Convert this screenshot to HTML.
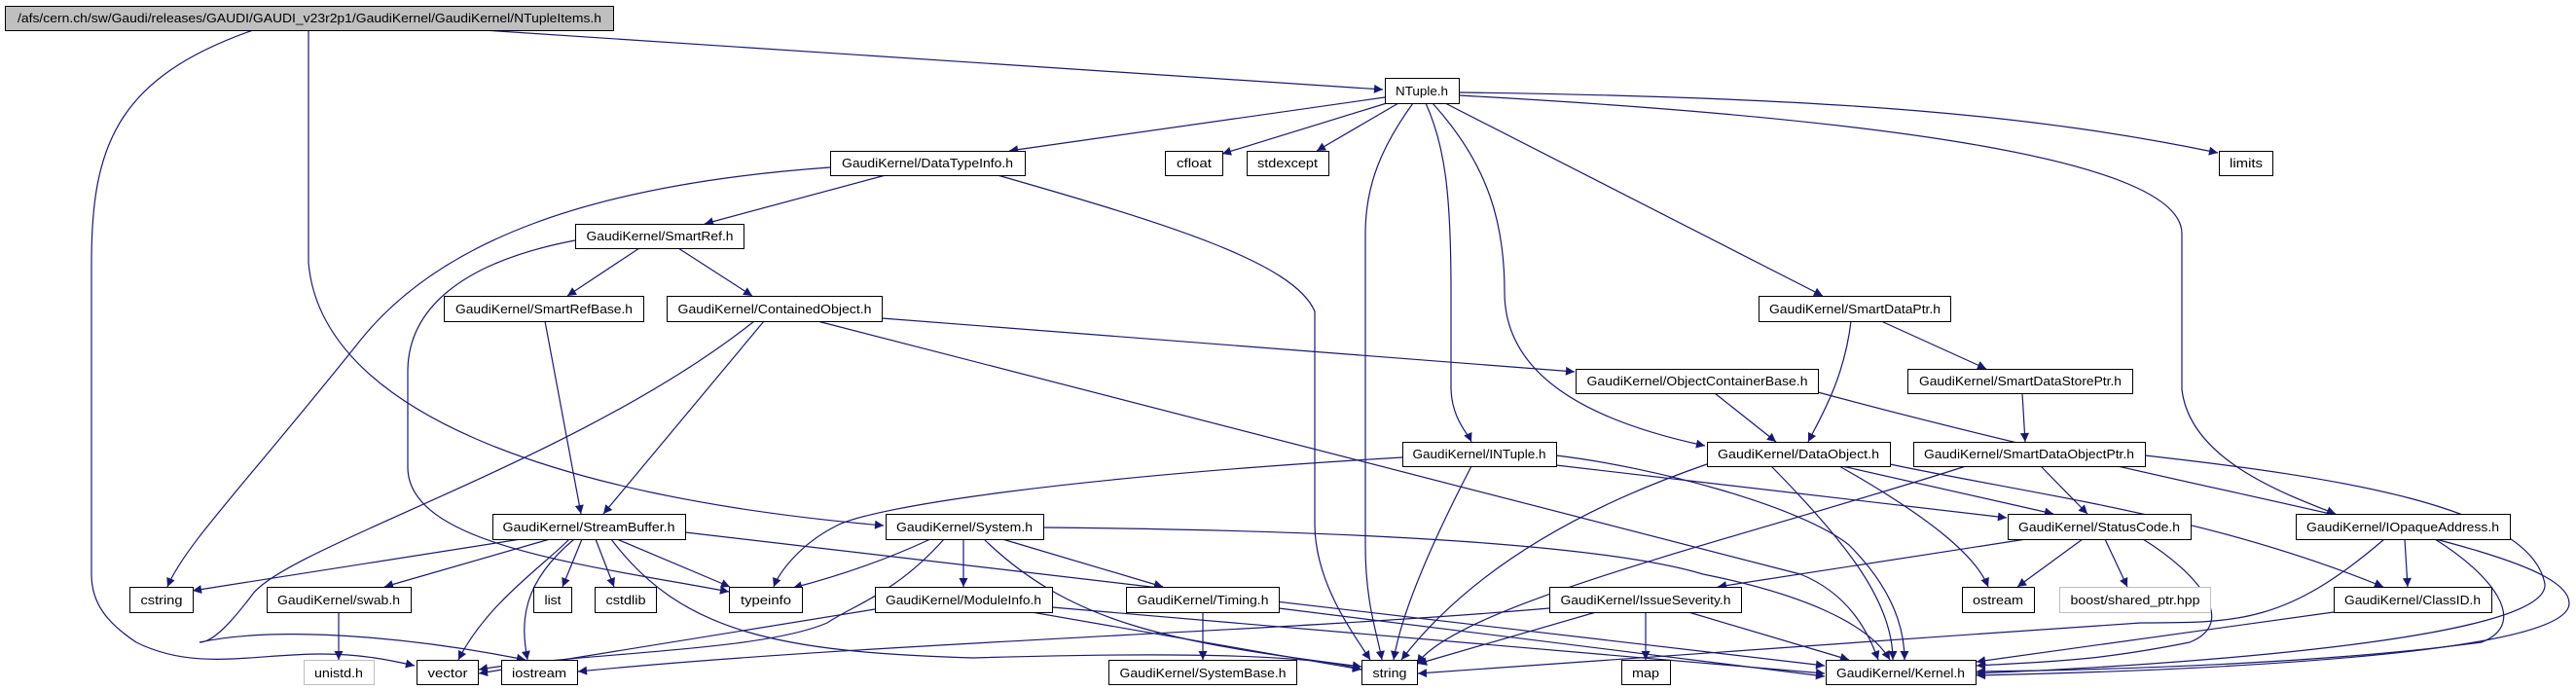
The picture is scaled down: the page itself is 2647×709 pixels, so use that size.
<!DOCTYPE html>
<html><head><meta charset="utf-8"><style>
html,body{margin:0;padding:0;background:#fff;}
svg{display:block;}
text{font-family:"Liberation Sans",sans-serif;font-size:13px;fill:#000;}
</style></head><body>
<svg width="2647" height="709" viewBox="0 0 2647 709" xmlns="http://www.w3.org/2000/svg">
<defs>
<marker id="a" viewBox="0 0 10 10" refX="10" refY="5" markerWidth="11" markerHeight="9" markerUnits="userSpaceOnUse" orient="auto">
<path d="M0,0 L10,5 L0,10 z" fill="#191970"/></marker>
</defs>
<g fill="none" stroke="#191970" stroke-width="1.2" marker-end="url(#a)">
<path d="M497,31 L1421,92"/>
<path d="M260,31 C120,80 94,150 94,270 L94,590 C94,620 110,640 140,660 C200,690 260,672 330,672 C370,672 400,678 426,684"/>
<path d="M317,31 L317,270 C330,420 560,510 908,540"/>
<path d="M1423,100 L1037,155"/>
<path d="M1425,106 L1256,158"/>
<path d="M1437,106 L1353,155"/>
<path d="M1499,95 C1900,100 2100,120 2279,157"/>
<path d="M1499,98 C1900,120 2242,160 2242,240 L2242,400 C2250,470 2340,505 2400,528"/>
<path d="M1485,106 L1873,304"/>
<path d="M1452,106 C1420,150 1403,190 1403,240 L1403,560 C1403,620 1415,650 1420,678"/>
<path d="M1465,106 C1485,150 1491,200 1491,300 L1491,400 C1492,430 1508,445 1512,454"/>
<path d="M1472,106 C1530,170 1546,230 1546,300 C1546,380 1620,430 1752,458"/>
<path d="M1025,180 C1200,230 1330,270 1351,320 L1351,540 C1352,600 1390,650 1408,678"/>
<path d="M910,180 L724,230"/>
<path d="M853,172 C600,190 450,250 370,350 C250,500 190,560 172,603"/>
<path d="M657,255 L583,304"/>
<path d="M697,255 L773,304"/>
<path d="M591,247 C470,270 420,320 419,380 L419,480 C419,560 600,580 749,608"/>
<path d="M560,330 L597,528"/>
<path d="M785,330 L620,528"/>
<path d="M906,327 L1618,382"/>
<path d="M840,330 L1850,590 C1900,610 1920,650 1930,678"/>
<path d="M775,330 C600,470 300,560 260,610 C230,650 215,660 205,660 C300,640 450,660 540,678"/>
<path d="M535,554 L198,607"/>
<path d="M565,554 L395,603"/>
<path d="M598,554 L578,603"/>
<path d="M612,554 L631,603"/>
<path d="M634,554 L750,603"/>
<path d="M585,554 C560,580 500,620 471,678"/>
<path d="M590,554 C535,600 535,640 542,678"/>
<path d="M628,554 C700,650 800,670 1000,676 C1200,670 1350,672 1399,688"/>
<path d="M704,547 L1875,684"/>
<path d="M348,629 L348,678"/>
<path d="M956,554 C900,580 850,595 815,604"/>
<path d="M970,554 C920,610 880,620 850,640 C780,670 600,670 492,688"/>
<path d="M990,554 L990,603"/>
<path d="M1011,554 C1100,640 1200,660 1399,685"/>
<path d="M1030,554 L1195,603"/>
<path d="M1072,542 C1400,545 1650,560 1750,590 C1850,610 1920,640 1942,678"/>
<path d="M899,626 L492,692"/>
<path d="M1060,629 L1399,688"/>
<path d="M1081,624 L1875,692"/>
<path d="M1236,629 L1236,678"/>
<path d="M1314,625 L1875,695"/>
<path d="M1441,470 C1100,490 900,520 860,540 C820,560 800,590 795,603"/>
<path d="M1512,479 C1470,560 1440,630 1432,678"/>
<path d="M1599,478 L2062,532"/>
<path d="M1599,468 C1700,480 1850,520 1900,560 C1940,600 1957,640 1957,678"/>
<path d="M1754,477 C1600,530 1500,600 1440,678"/>
<path d="M1893,479 L2110,528"/>
<path d="M1890,479 C1980,530 2030,570 2043,603"/>
<path d="M1942,477 C2100,510 2270,530 2449,603"/>
<path d="M1820,479 C1900,560 1945,620 1945,678"/>
<path d="M1902,330 C1895,390 1870,430 1858,454"/>
<path d="M1933,330 L2041,379"/>
<path d="M2078,404 L2081,454"/>
<path d="M2097,479 L2145,528"/>
<path d="M2020,479 C1800,550 1500,620 1456,682"/>
<path d="M2204,468 C2400,490 2600,520 2615,600 C2620,660 2200,685 2031,692"/>
<path d="M1762,404 L1825,454"/>
<path d="M1868,403 C2300,520 2640,560 2640,620 C2640,670 2300,688 2031,694"/>
<path d="M2082,554 L1765,603"/>
<path d="M2140,554 L2073,603"/>
<path d="M2163,554 L2186,603"/>
<path d="M2202,554 C2260,590 2300,640 2250,660 C2150,680 2100,680 2031,684"/>
<path d="M2471,554 L2474,603"/>
<path d="M2502,554 C2560,590 2600,640 2550,660 C2400,680 2200,688 2031,690"/>
<path d="M2450,554 C2350,640 2300,640 2200,640 C1900,660 1500,690 1457,692"/>
<path d="M2398,629 L2031,680"/>
<path d="M1640,629 L1457,682"/>
<path d="M1691,629 L1691,678"/>
<path d="M1735,629 L1900,678"/>
<path d="M1592,625 C1300,650 900,660 594,690"/>
</g>
<g stroke="#000" stroke-width="1" fill="#fff">
<rect x="5.5" y="6.5" width="625" height="25" fill="#bfbfbf"/>
<rect x="1423.5" y="80.5" width="76" height="26"/>
<rect x="853.5" y="155.5" width="200" height="25"/>
<rect x="1197.5" y="155.5" width="59" height="25"/>
<rect x="1281.5" y="155.5" width="84" height="25"/>
<rect x="2280.5" y="155.5" width="55" height="25"/>
<rect x="591.5" y="230.5" width="173" height="25"/>
<rect x="456.5" y="304.5" width="205" height="26"/>
<rect x="685.5" y="304.5" width="221" height="26"/>
<rect x="1807.5" y="304.5" width="197" height="26"/>
<rect x="1619.5" y="379.5" width="249" height="25"/>
<rect x="1960.5" y="379.5" width="231" height="25"/>
<rect x="1441.5" y="454.5" width="158" height="25"/>
<rect x="1754.5" y="454.5" width="188" height="25"/>
<rect x="1966.5" y="454.5" width="238" height="25"/>
<rect x="506.5" y="528.5" width="198" height="26"/>
<rect x="910.5" y="528.5" width="162" height="26"/>
<rect x="2063.5" y="528.5" width="188" height="26"/>
<rect x="2359.5" y="528.5" width="220" height="26"/>
<rect x="133.5" y="603.5" width="65" height="26"/>
<rect x="274.5" y="603.5" width="148" height="26"/>
<rect x="548.5" y="603.5" width="39" height="26"/>
<rect x="611.5" y="603.5" width="63" height="26"/>
<rect x="749.5" y="603.5" width="75" height="26"/>
<rect x="899.5" y="603.5" width="182" height="26"/>
<rect x="1157.5" y="603.5" width="157" height="26"/>
<rect x="1592.5" y="603.5" width="197" height="26"/>
<rect x="2016.5" y="603.5" width="74" height="26"/>
<rect x="2116.5" y="603.5" width="155" height="26" stroke="#bfbfbf"/>
<rect x="2398.5" y="603.5" width="162" height="26"/>
<rect x="312.5" y="678.5" width="72" height="25" stroke="#bfbfbf"/>
<rect x="428.5" y="678.5" width="63" height="25"/>
<rect x="515.5" y="678.5" width="78" height="25"/>
<rect x="1139.5" y="678.5" width="193" height="25"/>
<rect x="1399.5" y="678.5" width="57" height="25"/>
<rect x="1666.5" y="678.5" width="50" height="25"/>
<rect x="1876.5" y="678.5" width="154" height="25"/>
</g>
<g text-anchor="middle">
<text x="318" y="23" textLength="600" lengthAdjust="spacingAndGlyphs">/afs/cern.ch/sw/Gaudi/releases/GAUDI/GAUDI_v23r2p1/GaudiKernel/GaudiKernel/NTupleItems.h</text>
<text x="1461" y="98" textLength="54" lengthAdjust="spacingAndGlyphs">NTuple.h</text>
<text x="953" y="172" textLength="176" lengthAdjust="spacingAndGlyphs">GaudiKernel/DataTypeInfo.h</text>
<text x="1227" y="172" textLength="36" lengthAdjust="spacingAndGlyphs">cfloat</text>
<text x="1323" y="172" textLength="62" lengthAdjust="spacingAndGlyphs">stdexcept</text>
<text x="2308" y="172" textLength="34" lengthAdjust="spacingAndGlyphs">limits</text>
<text x="678" y="247" textLength="151" lengthAdjust="spacingAndGlyphs">GaudiKernel/SmartRef.h</text>
<text x="559" y="322" textLength="182" lengthAdjust="spacingAndGlyphs">GaudiKernel/SmartRefBase.h</text>
<text x="796" y="322" textLength="199" lengthAdjust="spacingAndGlyphs">GaudiKernel/ContainedObject.h</text>
<text x="1906" y="322" textLength="176" lengthAdjust="spacingAndGlyphs">GaudiKernel/SmartDataPtr.h</text>
<text x="1744" y="396" textLength="227" lengthAdjust="spacingAndGlyphs">GaudiKernel/ObjectContainerBase.h</text>
<text x="2076" y="396" textLength="208" lengthAdjust="spacingAndGlyphs">GaudiKernel/SmartDataStorePtr.h</text>
<text x="1520" y="471" textLength="137" lengthAdjust="spacingAndGlyphs">GaudiKernel/INTuple.h</text>
<text x="1848" y="471" textLength="166" lengthAdjust="spacingAndGlyphs">GaudiKernel/DataObject.h</text>
<text x="2085" y="471" textLength="216" lengthAdjust="spacingAndGlyphs">GaudiKernel/SmartDataObjectPtr.h</text>
<text x="605" y="546" textLength="177" lengthAdjust="spacingAndGlyphs">GaudiKernel/StreamBuffer.h</text>
<text x="991" y="546" textLength="140" lengthAdjust="spacingAndGlyphs">GaudiKernel/System.h</text>
<text x="2157" y="546" textLength="166" lengthAdjust="spacingAndGlyphs">GaudiKernel/StatusCode.h</text>
<text x="2469" y="546" textLength="198" lengthAdjust="spacingAndGlyphs">GaudiKernel/IOpaqueAddress.h</text>
<text x="166" y="621" textLength="43" lengthAdjust="spacingAndGlyphs">cstring</text>
<text x="348" y="621" textLength="126" lengthAdjust="spacingAndGlyphs">GaudiKernel/swab.h</text>
<text x="568" y="621" textLength="17" lengthAdjust="spacingAndGlyphs">list</text>
<text x="643" y="621" textLength="41" lengthAdjust="spacingAndGlyphs">cstdlib</text>
<text x="787" y="621" textLength="52" lengthAdjust="spacingAndGlyphs">typeinfo</text>
<text x="990" y="621" textLength="160" lengthAdjust="spacingAndGlyphs">GaudiKernel/ModuleInfo.h</text>
<text x="1236" y="621" textLength="135" lengthAdjust="spacingAndGlyphs">GaudiKernel/Timing.h</text>
<text x="1691" y="621" textLength="175" lengthAdjust="spacingAndGlyphs">GaudiKernel/IssueSeverity.h</text>
<text x="2053" y="621" textLength="52" lengthAdjust="spacingAndGlyphs">ostream</text>
<text x="2194" y="621" textLength="133" lengthAdjust="spacingAndGlyphs">boost/shared_ptr.hpp</text>
<text x="2479" y="621" textLength="140" lengthAdjust="spacingAndGlyphs">GaudiKernel/ClassID.h</text>
<text x="348" y="696" textLength="50" lengthAdjust="spacingAndGlyphs">unistd.h</text>
<text x="460" y="696" textLength="41" lengthAdjust="spacingAndGlyphs">vector</text>
<text x="554" y="696" textLength="56" lengthAdjust="spacingAndGlyphs">iostream</text>
<text x="1236" y="696" textLength="171" lengthAdjust="spacingAndGlyphs">GaudiKernel/SystemBase.h</text>
<text x="1428" y="696" textLength="35" lengthAdjust="spacingAndGlyphs">string</text>
<text x="1691" y="696" textLength="28" lengthAdjust="spacingAndGlyphs">map</text>
<text x="1953" y="696" textLength="132" lengthAdjust="spacingAndGlyphs">GaudiKernel/Kernel.h</text>
</g>
</svg>
</body></html>
